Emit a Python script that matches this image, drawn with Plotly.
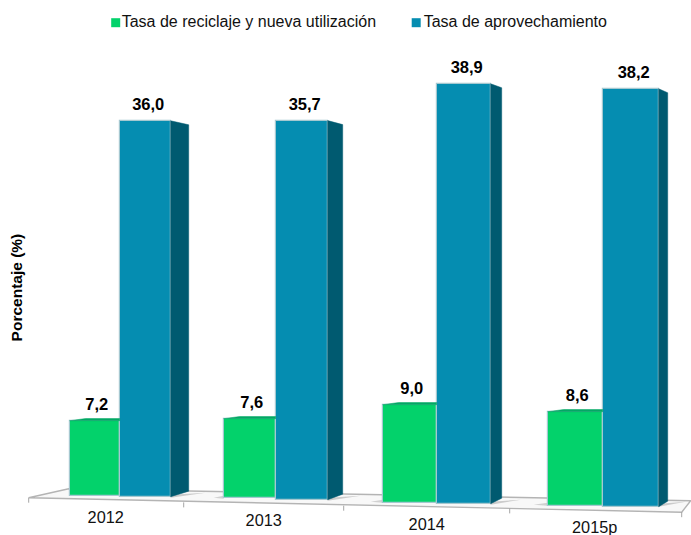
import plotly.graph_objects as go

# ---------- data ----------
categories = ["2012", "2013", "2014", "2015p"]
reciclaje = [7.2, 7.6, 9.0, 8.6]
aprovechamiento = [36.0, 35.7, 38.9, 38.2]
name_reciclaje = "Tasa de reciclaje y nueva utilización"
name_aprovechamiento = "Tasa de aprovechamiento"
y_title = "Porcentaje (%)"

# ---------- layout helpers: the chart is a drawn-in-perspective 3D view ----------
W, H = 691, 535
PX = 10.4            # pixels per percentage point
Y0 = 495             # pixel row of the zero level of the first bar


def yv(px):
    return (Y0 - px) / PX


green_left = [69, 223, 382, 547]
mid = [119, 275, 436, 602]
blue_right = [170, 327, 490, 658]
depth_x = [18, 15, 11, 9]
green_floor_px = [495, 497.5, 502, 505]
blue_floor_px = [496, 499, 503, 506]
green_persp = [1.0016, 1.006, 1.047, 1.051]
blue_persp = [1.004, 1.021, 1.038, 1.052]
cat_label_x = [105, 263, 426, 594]
cat_label_px = [518, 521, 525, 528]

GREEN, GREEN_TOP = "#03d26b", "#03a864"
BLUE, BLUE_SIDE = "#058db1", "#005a70"
EDGE = "#a5c8d0"
FONT = "Liberation Sans, Arial, sans-serif"

green_base = [yv(p) for p in green_floor_px]
blue_base = [yv(p) for p in blue_floor_px]
green_h = [v * s for v, s in zip(reciclaje, green_persp)]
blue_h = [v * s for v, s in zip(aprovechamiento, blue_persp)]
green_top = [b + h for b, h in zip(green_base, green_h)]
blue_top = [b + h for b, h in zip(blue_base, blue_h)]

fig = go.Figure()

# side faces
for i in range(4):
    r, d = blue_right[i], depth_x[i]
    rise = 4 / PX
    fig.add_trace(go.Scatter(
        x=[r, r + d, r + d, r, r],
        y=[blue_top[i], blue_top[i] - rise, blue_base[i] + 5.5 / PX, blue_base[i], blue_top[i]],
        mode="lines", fill="toself", fillcolor=BLUE_SIDE,
        line=dict(color=BLUE_SIDE, width=0.5), hoverinfo="skip", showlegend=False))
    # green top face
    g = green_left[i]
    fig.add_trace(go.Scatter(
        x=[g, g + 16, mid[i], mid[i], g],
        y=[green_top[i], green_top[i] + 2.2 / PX, green_top[i] + 2.2 / PX, green_top[i], green_top[i]],
        mode="lines", fill="toself", fillcolor=GREEN_TOP,
        line=dict(color=GREEN_TOP, width=0.5), hoverinfo="skip", showlegend=False))

# front faces
fig.add_trace(go.Bar(
    x=[(a + b) / 2 for a, b in zip(green_left, mid)],
    width=[b - a for a, b in zip(green_left, mid)],
    y=green_h, base=green_base, name=name_reciclaje, showlegend=False,
    marker=dict(color=GREEN, line=dict(color=EDGE, width=1.2))))
fig.add_trace(go.Bar(
    x=[(a + b) / 2 for a, b in zip(mid, blue_right)],
    width=[b - a for a, b in zip(mid, blue_right)],
    y=blue_h, base=blue_base, name=name_aprovechamiento, showlegend=False,
    marker=dict(color=BLUE, line=dict(color=EDGE, width=1.2))))


def fmt(v):
    return f"{v:.1f}".replace(".", ",")


# value labels
lab_x = [(a + b) / 2 + 2 for a, b in zip(green_left, mid)] + [(a + b) / 2 + 3 for a, b in zip(mid, blue_right)]
lab_y = [t + 14.5 / PX for t in green_top] + [t + 14.5 / PX for t in blue_top]
fig.add_trace(go.Scatter(
    x=lab_x, y=lab_y, mode="text", text=[f"<b>{fmt(v)}</b>" for v in reciclaje + aprovechamiento],
    textposition="middle center", textfont=dict(family=FONT, size=16.5, color="#000000"),
    hoverinfo="skip", showlegend=False))

# category labels
fig.add_trace(go.Scatter(
    x=cat_label_x, y=[yv(p) for p in cat_label_px], mode="text", text=categories,
    textposition="middle center", textfont=dict(family=FONT, size=16.3, color="#111111"),
    hoverinfo="skip", showlegend=False))

# legend key
fig.add_trace(go.Scatter(
    x=[115, 415.5], y=[yv(22), yv(22)], mode="markers",
    marker=dict(symbol="square", size=9, color=[GREEN, BLUE]),
    hoverinfo="skip", showlegend=False))
fig.add_trace(go.Scatter(
    x=[121, 423], y=[yv(22), yv(22)], mode="text",
    text=[name_reciclaje, name_aprovechamiento], textposition="middle right",
    textfont=dict(family=FONT, size=16, color="#111111"),
    hoverinfo="skip", showlegend=False))


def path(points):
    return "M " + " L ".join(f"{x},{yv(p)}" for x, p in points) + " Z"


shapes = [
    dict(type="path", layer="below", fillcolor="#f8f8f8", line=dict(color="#b4b4b4", width=1.4),
         path=path([(28, 497), (68, 488), (690, 500), (681, 511.5)])),
]
tick_x = [28, 183, 343, 509, 681]
tick_px = [497, 501.7, 505, 507.7, 511.5]
for x, p in zip(tick_x, tick_px):
    shapes.append(dict(type="line", layer="below", x0=x, x1=x, y0=yv(p), y1=yv(p + 5),
                       line=dict(color="#a5a5a5", width=1)))
# soft floor shadows
for x0, x1, p in [(170, 205, 494), (327, 360, 497), (490, 520, 501), (658, 685, 503)]:
    shapes.append(dict(type="path", layer="below", fillcolor="rgba(120,120,120,0.35)", line=dict(width=0),
                       path=path([(x0, p), (x1, p - 2), (x0, p + 3)])))
for x0, x1, p in [(213, 223, 497), (370, 382, 501), (533, 547, 504)]:
    shapes.append(dict(type="path", layer="below", fillcolor="rgba(120,120,120,0.3)", line=dict(width=0),
                       path=path([(x0, p), (x1, p - 2), (x1, p + 1)])))

NUDGE = 0.7  # pixel alignment of the drawing area
fig.update_layout(
    width=W, height=H, margin=dict(l=0, r=0, t=0, b=0),
    paper_bgcolor="white", plot_bgcolor="white", barmode="overlay", showlegend=False,
    bargap=0, shapes=shapes,
    xaxis=dict(range=[-NUDGE, W - NUDGE], visible=False, fixedrange=True),
    yaxis=dict(range=[yv(H - NUDGE), yv(-NUDGE)], visible=False, fixedrange=True),
    annotations=[dict(
        text=f"<b>{y_title}</b>", x=16, y=yv(287), xref="x", yref="y", textangle=-90, showarrow=False,
        font=dict(family=FONT, size=15.5, color="#000000"))],
)
fig.update_traces(selector=dict(type="bar"), hoverinfo="skip")

fig.write_html("out.html", config=dict(displayModeBar=False),
               post_script="document.body.style.margin='0';document.documentElement.style.overflow='hidden';")
